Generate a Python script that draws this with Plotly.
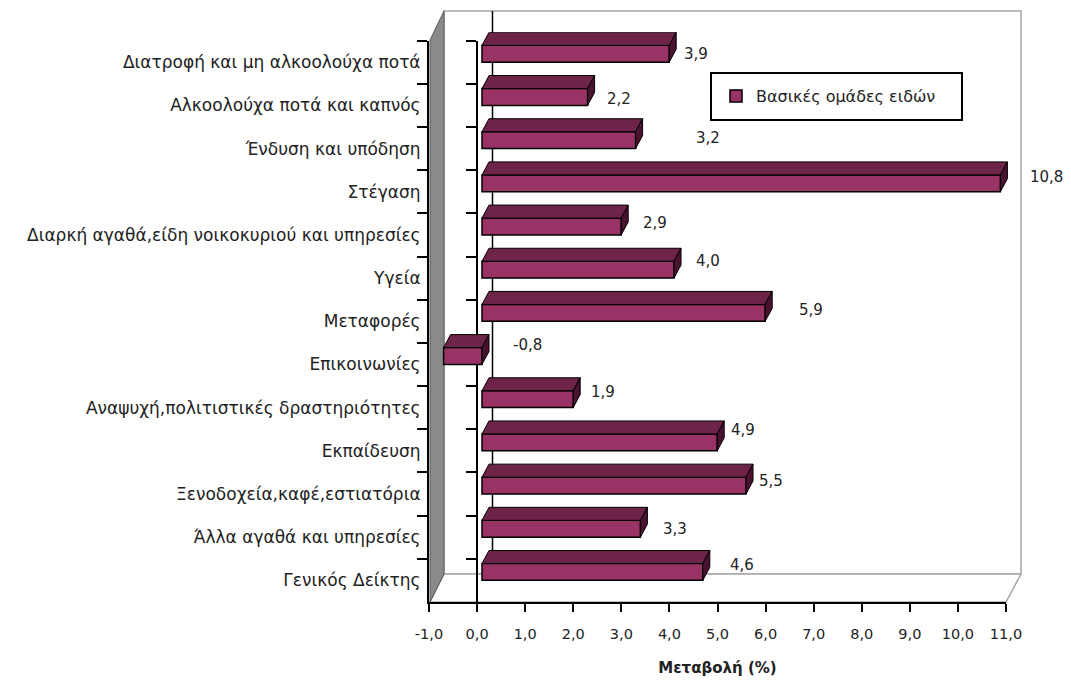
import plotly.graph_objects as go

# ---- data -------------------------------------------------------------
categories = [
    "Διατροφή και μη αλκοολούχα ποτά",
    "Αλκοολούχα ποτά και καπνός",
    "Ένδυση και υπόδηση",
    "Στέγαση",
    "Διαρκή αγαθά,είδη νοικοκυριού και υπηρεσίες",
    "Υγεία",
    "Μεταφορές",
    "Επικοινωνίες",
    "Αναψυχή,πολιτιστικές δραστηριότητες",
    "Εκπαίδευση",
    "Ξενοδοχεία,καφέ,εστιατόρια",
    "Άλλα αγαθά και υπηρεσίες",
    "Γενικός Δείκτης",
]
values = [3.9, 2.2, 3.2, 10.8, 2.9, 4.0, 5.9, -0.8, 1.9, 4.9, 5.5, 3.3, 4.6]
x_ticks = [-1.0, 0.0, 1.0, 2.0, 3.0, 4.0, 5.0, 6.0, 7.0, 8.0, 9.0, 10.0, 11.0]
series_name = "Βασικές ομάδες ειδών"
axis_title = "Μεταβολή (%)"

# value-label nudges in pixels (right of bar end, upward)
label_dx = [27, 31, 72, 46, 34, 34, 46, 45, 30, 26, 25, 35, 39]
label_dy = [0, -2, 2, 6, 4, 9, 3, 11, 7, 12, 5, 0, 7]


def fmt(v):
    return f"{v:.1f}".replace(".", ",")


# ---- canvas geometry ---------------------------------------------------
W, H = 1071, 681
FONT = "DejaVu Sans"
TXT = "#222222"
FRONT = "#993366"
TOP = "#6e2449"
SIDE = "#4a1131"


def px(x):
    return x / W


def py(y):
    return 1 - y / H


front_x = [px(429), px(1006)]
front_y = [py(602), py(40.7)]
bar_x = [px(434), px(1010)]
bar_y = [py(593.5), py(32.2)]

n = len(categories)
rows = list(range(n))
bar_w = 0.39
depth_dx = 7 / 48.0      # bar depth in x units
depth_dy = 13 / 43.18    # bar depth in row units

# top and side faces of each bar, derived from the values
top_x, top_y, side_x, side_y = [], [], [], []
for i, v in zip(rows, values):
    lo, hi = min(v, 0), max(v, 0)
    y_front = i - bar_w / 2
    y_back = y_front - depth_dy
    top_x += [lo, hi, hi + depth_dx, lo + depth_dx, lo, None]
    top_y += [y_front, y_front, y_back, y_back, y_front, None]
    side_x += [hi, hi + depth_dx, hi + depth_dx, hi, hi, None]
    side_y += [y_front, y_back, i + bar_w / 2 - depth_dy, i + bar_w / 2, y_front, None]

fig = go.Figure()

# invisible carriers for the category axes
fig.add_trace(go.Scatter(x=[0] * n, y=categories, mode="markers",
                         marker=dict(opacity=0), showlegend=False,
                         hoverinfo="skip", xaxis="x", yaxis="y"))
fig.add_trace(go.Scatter(x=[0] * n, y=categories, mode="markers",
                         marker=dict(opacity=0), showlegend=False,
                         hoverinfo="skip", xaxis="x", yaxis="y3"))

fig.add_trace(go.Bar(
    x=values, y=rows, orientation="h", width=bar_w,
    marker=dict(color=FRONT, line=dict(color="black", width=1.5)),
    name=series_name, xaxis="x2", yaxis="y2", hoverinfo="x",
))
fig.add_trace(go.Scatter(
    x=top_x, y=top_y, mode="lines", fill="toself", fillcolor=TOP,
    line=dict(color="black", width=1), showlegend=False,
    hoverinfo="skip", xaxis="x2", yaxis="y2",
))
fig.add_trace(go.Scatter(
    x=side_x, y=side_y, mode="lines", fill="toself", fillcolor=SIDE,
    line=dict(color="black", width=1), showlegend=False,
    hoverinfo="skip", xaxis="x2", yaxis="y2",
))

# value labels
annotations = []
for i, v in zip(rows, values):
    annotations.append(dict(
        x=max(v, 0), y=i, xref="x2", yref="y2", text=fmt(v),
        showarrow=False, xanchor="center", yanchor="middle",
        xshift=label_dx[i], yshift=label_dy[i],
        font=dict(family=FONT, size=15, color=TXT),
    ))


def path(points):
    s = "M " + " L ".join(f"{px(a):.5f},{py(b):.5f}" for a, b in points)
    return s + " Z"


GRAY_LINE = dict(color="#a6a6a6", width=1.5)
shapes = [
    # back wall
    dict(type="path", xref="paper", yref="paper", layer="below",
         path=path([(444, 11), (1021, 11), (1021, 574), (444, 574)]),
         fillcolor="white", line=GRAY_LINE),
    # floor
    dict(type="path", xref="paper", yref="paper", layer="below",
         path=path([(430, 602), (444, 574), (1021, 574), (1006, 602)]),
         fillcolor="white", line=GRAY_LINE),
    # left wall
    dict(type="path", xref="paper", yref="paper", layer="below",
         path=path([(430, 40), (444, 11), (444, 574), (430, 602)]),
         fillcolor="#8a8a8a", line=dict(color="#5a5a5a", width=1)),
    # zero line on the back wall
    dict(type="line", xref="paper", yref="paper", layer="below",
         x0=px(492.5), x1=px(492.5), y0=py(11), y1=py(574),
         line=dict(color="black", width=1.5)),
    # legend frame
    dict(type="rect", xref="paper", yref="paper", layer="above",
         x0=px(711), x1=px(962), y0=py(120), y1=py(73),
         line=dict(color="black", width=2)),
]

fig.update_layout(
    width=W, height=H,
    autosize=False,
    margin=dict(l=0, r=0, t=0, b=0, pad=0, autoexpand=False),
    paper_bgcolor="white",
    plot_bgcolor="rgba(0,0,0,0)",
    font=dict(family=FONT, size=15, color=TXT),
    showlegend=True,
    legend=dict(x=px(716), y=py(96), xanchor="left", yanchor="middle",
                bgcolor="rgba(0,0,0,0)", borderwidth=0,
                font=dict(family=FONT, size=16, color=TXT)),
    xaxis=dict(
        domain=front_x, range=[-1, 11], anchor="y", automargin=False,
        tickmode="array", tickvals=x_ticks, ticktext=[fmt(t) for t in x_ticks],
        ticks="outside", ticklen=8, tickwidth=2, tickcolor="black",
        showline=True, linecolor="black", linewidth=2,
        showgrid=False, zeroline=False, ticklabelstandoff=10,
        tickfont=dict(family=FONT, size=14.5, color=TXT),
        title=dict(text=f"<b>{axis_title}</b>", standoff=21,
                   font=dict(family=FONT, size=15, color=TXT)),
    ),
    yaxis=dict(
        domain=front_y, type="category", categoryorder="array",
        categoryarray=categories, range=[12.5, -0.5], anchor="x",
        automargin=False,
        tickson="boundaries", ticks="outside", ticklen=10, tickwidth=1.5,
        tickcolor="black", showline=True, linecolor="black", linewidth=2,
        showgrid=False, zeroline=False, ticklabelstandoff=3,
        tickfont=dict(family=FONT, size=17, color=TXT),
    ),
    yaxis3=dict(
        type="category", categoryorder="array", categoryarray=categories,
        range=[12.5, -0.5], overlaying="y", anchor="free", position=px(477),
        automargin=False,
        side="left", tickson="boundaries", ticks="outside", ticklen=10,
        tickwidth=1.5, tickcolor="black", showline=True, linecolor="black",
        linewidth=2, showgrid=False, zeroline=False, showticklabels=False,
    ),
    xaxis2=dict(domain=bar_x, range=[-1, 11], anchor="y2", visible=False,
                automargin=False),
    yaxis2=dict(domain=bar_y, range=[12.5, -0.5], anchor="x2", visible=False,
                automargin=False),
    shapes=shapes,
    annotations=annotations,
)

fig.write_html("out.html")
